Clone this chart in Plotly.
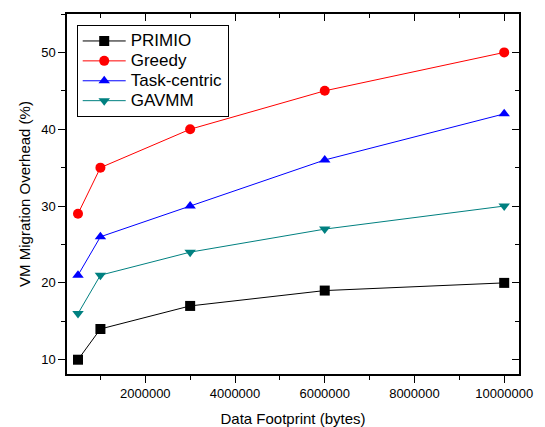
import plotly.graph_objects as go

x_bytes = [500000, 1000000, 3000000, 6000000, 10000000]
primio = [10, 14, 17, 19, 20]
greedy = [29, 35, 40, 45, 50]
task_centric = [21, 26, 30, 36, 42]
gavmm = [16, 21, 24, 27, 30]

series = [
    ("PRIMIO", primio, "black", "square"),
    ("Greedy", greedy, "red", "circle"),
    ("Task-centric", task_centric, "blue", "triangle-up"),
    ("GAVMM", gavmm, "#008080", "triangle-down"),
]

fig = go.Figure()
for name, vals, col, sym in series:
    fig.add_trace(go.Scatter(
        x=x_bytes, y=vals, name='<span style="font-size:17px">%s</span>' % name,
        mode="lines+markers",
        line=dict(color=col, width=1),
        marker=dict(symbol=sym, size=10, color=col),
    ))

xr = [255000, 10330000]
yr = [8.14, 55.0]

fig.update_layout(
    width=545, height=427,
    margin=dict(l=67, r=26, t=14, b=53, autoexpand=False),
    paper_bgcolor="white", plot_bgcolor="white",
    font=dict(family="Arial, Liberation Sans, sans-serif", size=13, color="black"),
    showlegend=True,
    legend=dict(x=0.0215, y=0.9694, xanchor="left", yanchor="top",
                bordercolor="black", borderwidth=1, bgcolor="white",
                font=dict(size=13), tracegroupgap=0, itemwidth=43),
    xaxis=dict(range=xr, showgrid=False, zeroline=False, showline=True,
               linecolor="black", linewidth=1.5, automargin=False,
               tickmode="linear", tick0=0, dtick=2000000, tickformat="d",
               ticks="outside", ticklen=7, tickcolor="black",
               minor=dict(ticks="outside", ticklen=4, dtick=1000000, tick0=0, tickcolor="black"),
               title=dict(text="Data Footprint (bytes)", font=dict(size=15), standoff=14),
               tickfont=dict(size=13)),
    yaxis=dict(range=yr, showgrid=False, zeroline=False, showline=True,
               linecolor="black", linewidth=1.5, automargin=False,
               tickmode="linear", tick0=0, dtick=10,
               ticks="outside", ticklen=7, tickcolor="black",
               minor=dict(ticks="outside", ticklen=4, dtick=5, tick0=0, tickcolor="black"),
               title=dict(text="VM Migration Overhead (%)", font=dict(size=15), standoff=7),
               tickfont=dict(size=13)),
    xaxis2=dict(range=xr, overlaying="x", side="top", showgrid=False, zeroline=False,
                showline=True, linecolor="black", linewidth=1.5, automargin=False,
                tickmode="linear", tick0=0, dtick=2000000, showticklabels=False,
                ticks="inside", ticklen=7, tickcolor="black",
                minor=dict(ticks="inside", ticklen=4, dtick=1000000, tick0=0, tickcolor="black")),
    yaxis2=dict(range=yr, overlaying="y", side="right", showgrid=False, zeroline=False,
                showline=True, linecolor="black", linewidth=1.5, automargin=False,
                tickmode="linear", tick0=0, dtick=10, showticklabels=False,
                ticks="inside", ticklen=7, tickcolor="black",
                minor=dict(ticks="inside", ticklen=4, dtick=5, tick0=0, tickcolor="black")),
)
# invisible trace to activate secondary axes
fig.add_trace(go.Scatter(x=[x_bytes[0]], y=[primio[0]], xaxis="x2", yaxis="y2",
                         mode="markers", marker=dict(opacity=0), showlegend=False,
                         hoverinfo="skip"))

fig.write_html("out.html", config={"displayModeBar": False},
               post_script="document.body.style.margin='0px';document.body.style.overflow='hidden';")
